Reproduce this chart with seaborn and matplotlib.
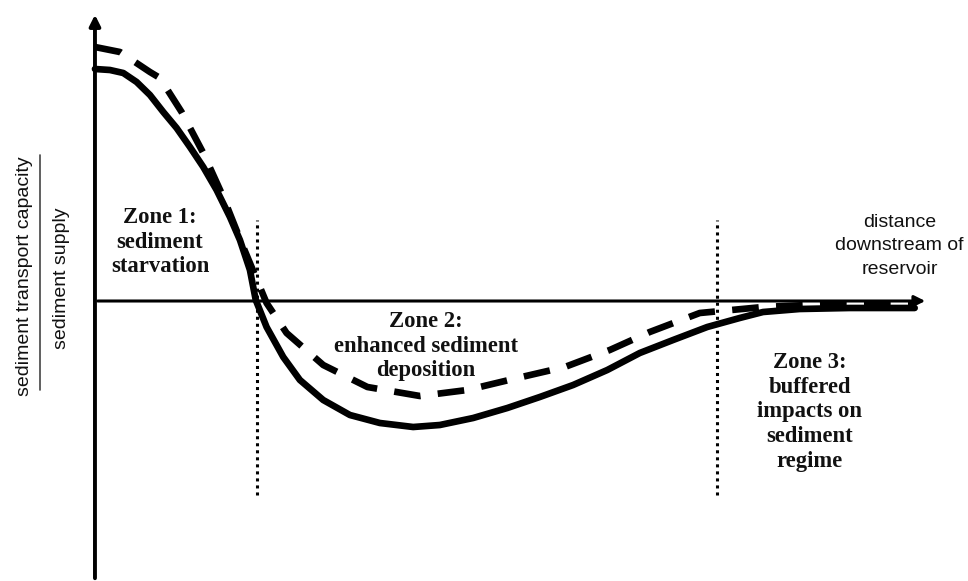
import matplotlib
matplotlib.use("Agg")
import matplotlib.pyplot as plt
import seaborn as sns

# distance downstream (arbitrary units) and capacity/supply ratio (0 = balance)
dist_solid = [0.00, 0.18, 0.34, 0.50, 0.66, 0.82, 0.98, 1.14, 1.30, 1.46, 1.62, 1.74,
              1.86, 1.93, 2.06, 2.26, 2.46, 2.74, 3.06, 3.42, 3.82, 4.14, 4.54, 4.95,
              5.34, 5.74, 6.15, 6.54, 6.94, 7.35, 7.74, 8.02, 8.46, 9.06, 9.84]
ratio_solid = [2.32, 2.31, 2.28, 2.19, 2.06, 1.89, 1.73, 1.54, 1.34, 1.11, 0.84, 0.61,
               0.31, 0.01, -0.26, -0.56, -0.79, -0.99, -1.14, -1.22, -1.26, -1.24, -1.17, -1.07,
               -0.96, -0.84, -0.69, -0.52, -0.39, -0.26, -0.17, -0.11, -0.08, -0.07, -0.07]

dist_dash = [0.00, 0.30, 0.66, 0.78, 1.04, 1.30, 1.54, 1.76, 1.98, 2.06, 2.30, 2.74,
             3.27, 3.90, 4.47, 5.07, 5.64, 6.18, 6.66, 7.26, 8.02, 8.82, 9.84]
ratio_dash = [2.54, 2.49, 2.29, 2.23, 1.89, 1.48, 1.04, 0.58, 0.14, -0.02, -0.32, -0.64,
              -0.86, -0.95, -0.89, -0.77, -0.66, -0.49, -0.31, -0.12, -0.06, -0.03, -0.03]

zone_bounds = [1.94, 7.47]
zone_labels = ["Zone 1:\nsediment\nstarvation",
               "Zone 2:\nenhanced sediment\ndeposition",
               "Zone 3:\nbuffered\nimpacts on\nsediment\nregime"]
zone_label_pos = [(0.78, 0.59), (3.97, -0.45), (8.58, -1.11)]

sns.set_theme(style="white")
plt.rcParams["font.family"] = ["Liberation Sans", "DejaVu Sans"]

fig = plt.figure(figsize=(9.68, 5.81), dpi=100)
ax = fig.add_axes([0, 0, 1, 1])
ax.set_xlim(-1.14, 10.48)
ax.set_ylim(-2.80, 3.01)
ax.set_axis_off()

# axes with arrows
ax.annotate("", xy=(0, 2.89), xytext=(0, -2.80),
            arrowprops=dict(arrowstyle="-|>", lw=2.8, color="black", mutation_scale=16))
ax.annotate("", xy=(10.0, 0), xytext=(0, 0),
            arrowprops=dict(arrowstyle="-|>", lw=2.2, color="black", mutation_scale=16))

# zone boundaries
ax.vlines(zone_bounds, -1.94, 0.81, color="black", lw=2.2, linestyle=(0, (1, 1.3)))

sns.lineplot(x=dist_solid, y=ratio_solid, sort=False, color="black", lw=4.8,
             solid_joinstyle="round", ax=ax)
sns.lineplot(x=dist_dash, y=ratio_dash, sort=False, color="black", lw=4.8,
             linestyle=(0, (4.0, 2.6)), dash_joinstyle="round", ax=ax)

for lab, (x, y) in zip(zone_labels, zone_label_pos):
    ax.text(x, y, lab, ha="center", va="center", fontsize=16.3, fontweight="bold",
            family=["Liberation Serif", "DejaVu Serif"], linespacing=1.22, color="#111111")

ax.text(9.66, 0.55, "distance\ndownstream of\nreservoir", ha="center", va="center",
        fontsize=14, linespacing=1.5, color="#111111")

# y label as a fraction
ax.text(-0.84, 0.25, "sediment transport capacity", rotation=90, ha="center", va="center",
        fontsize=14, color="#111111")
ax.plot([-0.66, -0.66], [1.46, -0.89], color="#444444", lw=1.2)
ax.text(-0.40, 0.23, "sediment supply", rotation=90, ha="center", va="center",
        fontsize=14, color="#111111")

fig.savefig("out.png", dpi=100)
